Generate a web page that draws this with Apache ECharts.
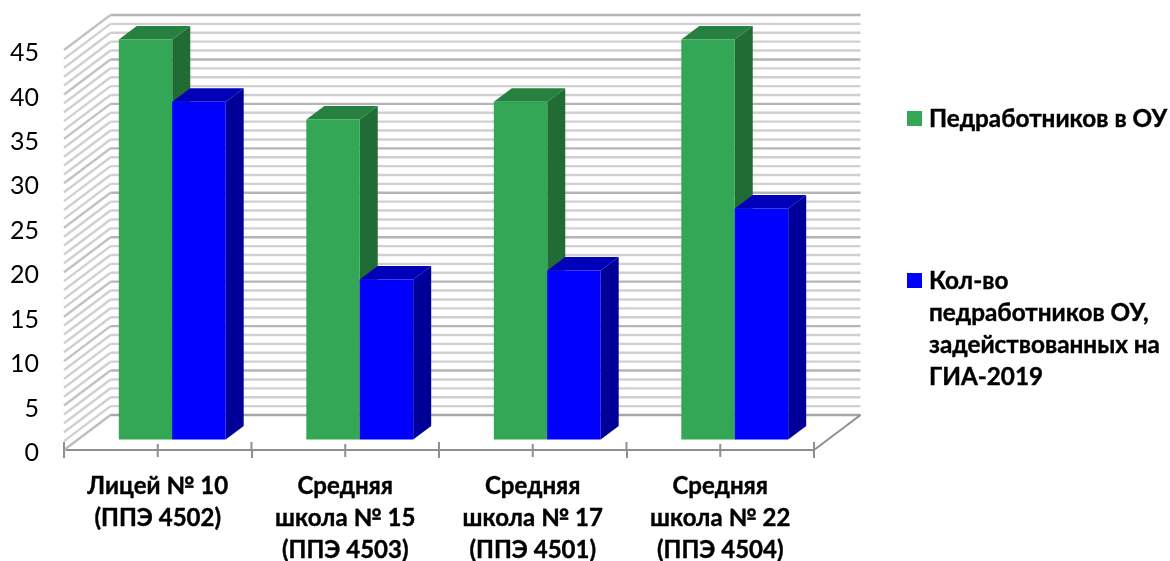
<!DOCTYPE html>
<html><head><meta charset="utf-8">
<style>html,body{margin:0;padding:0;background:#fff}#c{width:1170px;height:561px}</style>
<script src="https://cdn.jsdelivr.net/npm/echarts@6/dist/echarts.min.js"></script>
</head><body><div id="c"></div>
<script>
const categories = ['Лицей № 10\n(ППЭ 4502)','Средняя\nшкола № 15\n(ППЭ 4503)','Средняя\nшкола № 17\n(ППЭ 4501)','Средняя\nшкола № 22\n(ППЭ 4504)'];
const teachers = [45,36,38,45];
const involved = [38,18,19,26];
const teachersName = 'Педработников в ОУ';
const involvedName = 'Кол-во\nпедработников ОУ,\nзадействованных на\nГИА-2019';
const gridValues = [0,1,2,3,4,5,6,7,8,9,10,11,12,13,14,15,16,17,18,19,20,21,22,23,24,25,26,27,28,29,30,31,32,33,34,35,36,37,38,39,40,41,42,43,44,45];

const FONT = 'Lato, "Open Sans", sans-serif';
const DX = 46.5, DY = 35;            // wall depth
const BAR_DX = 14.5, BAR_DY = 10.5;  // bar plane offset from the front axis
const BAR_DEPTH_X = 18, BAR_DEPTH_Y = 13.5;
const BAR_RATIO = 0.285;

function wallItem(params, api){
  const v = api.value(1), cs = params.coordSys;
  const y = api.coord([0, v])[1];
  const major = v % 5 === 0;
  const color = v === 0 ? '#a6a6a6' : major ? '#b5b5b5' : '#d0d0d0';
  const x0 = cs.x, x1 = cs.x + DX, x2 = cs.x + cs.width + DX;
  return {type:'group', children:[
    {type:'polyline', shape:{points:[[x0,y],[x1,y-DY]]},
      style:{stroke: v===0 ? '#bdbdbd' : major ? '#c2c2c2' : '#d0d0d0', lineWidth:2.4, fill:null}},
    {type:'polyline', shape:{points:[[x1,y-DY],[x2,y-DY]]},
      style:{stroke:color, lineWidth:2.4, fill:null}}
  ]};
}
function floorItem(params, api){
  const cs = params.coordSys;
  const y = cs.y + cs.height, x = cs.x + cs.width;
  const n = categories.length, band = cs.width / n;
  const kids = [{type:'line', shape:{x1:x,y1:y,x2:x+DX,y2:y-DY}, style:{stroke:'#8f8f8f',lineWidth:2}}];
  for(let i=0;i<=n;i++){
    kids.push({type:'line', shape:{x1:cs.x+i*band,y1:y-8,x2:cs.x+i*band,y2:y},style:{stroke:'#8f8f8f',lineWidth:2}});
    if(i<n) kids.push({type:'line', shape:{x1:cs.x+(i+.5)*band,y1:y-6,x2:cs.x+(i+.5)*band,y2:y+7},style:{stroke:'#8f8f8f',lineWidth:2}});
  }
  return {type:'group', children:kids};
}
function barItem(side, front, topC, sideC){
  return function(params, api){
    const i = api.value(0), v = api.value(1);
    const c = api.coord([i, v]), b = api.coord([i, 0]);
    const w = api.size([1,0])[0] * BAR_RATIO;
    const cx = c[0] + BAR_DX;
    const xl = side < 0 ? cx - w : cx, xr = xl + w;
    const yt = c[1] - BAR_DY, yb = b[1] - BAR_DY;
    const dx = BAR_DEPTH_X, dy = BAR_DEPTH_Y;
    return {type:'group', children:[
      {type:'polygon', shape:{points:[[xr,yt],[xr+dx,yt-dy],[xr+dx,yb-dy],[xr,yb]]}, style:{fill:sideC}},
      {type:'polygon', shape:{points:[[xl,yt],[xl+dx,yt-dy],[xr+dx,yt-dy],[xr,yt]]}, style:{fill:topC}},
      {type:'rect', shape:{x:xl,y:yt,width:w,height:yb-yt}, style:{fill:front}}
    ]};
  };
}

const chart = echarts.init(document.getElementById('c'), null, {renderer:'canvas'});
chart.setOption({
  animation:false,
  backgroundColor:'#fff',
  grid:{left:64, top:50, width:750, height:400, containLabel:false, outerBoundsMode:'none'},
  xAxis:{type:'category', data:categories, boundaryGap:true,
    axisLine:{lineStyle:{color:'#8f8f8f',width:2}},
    axisTick:{show:true,length:8,lineStyle:{color:'#8f8f8f',width:2}},
    axisLabel:{interval:0,margin:20,color:'#000',fontFamily:FONT,fontWeight:'bold',fontSize:24,lineHeight:32,verticalAlign:'top',textBorderColor:'#000',textBorderWidth:0.4}},
  yAxis:{type:'value',min:0,max:45,interval:5,
    axisLine:{show:false},axisTick:{show:false},splitLine:{show:false},
    axisLabel:{margin:25,color:'#000',fontFamily:FONT,fontSize:25,verticalAlign:'top',lineHeight:6}},
  legend:{orient:'vertical',left:902,top:50,itemWidth:17,itemHeight:128,itemGap:82,
    symbolKeepAspect:false,
    textStyle:{color:'#000',fontFamily:FONT,fontWeight:'bold',fontSize:24.3,lineHeight:32,textBorderColor:'#000',textBorderWidth:0.4},
    data:[
      {name:teachersName,icon:'path://M0 56H15V71H0Z M0 0H0.01V0.01H0Z M17 128H17.01V128.01H17Z',itemStyle:{color:'#33a755'}},
      {name:involvedName,icon:'path://M0 8H15V23H0Z M0 0H0.01V0.01H0Z M17 128H17.01V128.01H17Z',itemStyle:{color:'#0000ff'}}
    ]},
  series:[
    {type:'custom',name:'Сетка',z:1,silent:true,clip:false,renderItem:wallItem,data:gridValues.map(v=>[0,v])},
    {type:'custom',name:'Ось',z:3,silent:true,clip:false,renderItem:floorItem,data:[[0,0]]},
    {type:'custom',name:teachersName,z:4,clip:false,itemStyle:{color:'#33a755'},
      renderItem:barItem(-1,'#33a755','#26803f','#216c35'),data:teachers.map((v,i)=>[i,v])},
    {type:'custom',name:involvedName,z:5,clip:false,itemStyle:{color:'#0000ff'},
      renderItem:barItem(1,'#0000ff','#0000b8','#000098'),data:involved.map((v,i)=>[i,v])}
  ]
});
</script></body></html>
